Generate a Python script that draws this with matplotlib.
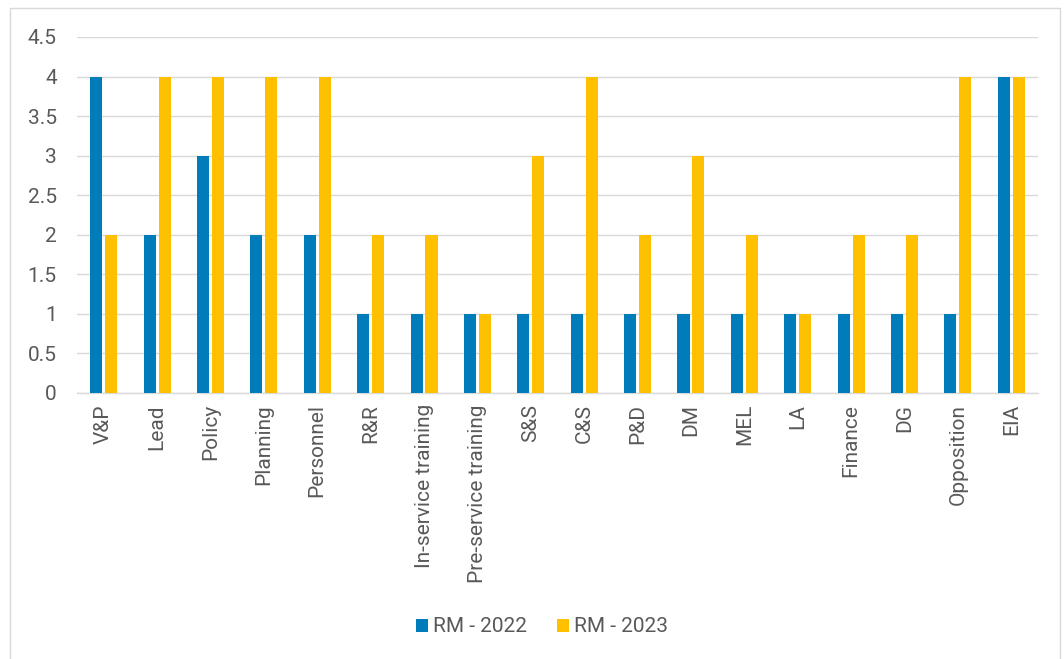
import numpy as np
import matplotlib.pyplot as plt
from matplotlib.patches import Rectangle

categories = ['V&P', 'Lead', 'Policy', 'Planning', 'Personnel', 'R&R',
              'In-service training', 'Pre-service training', 'S&S', 'C&S',
              'P&D', 'DM', 'MEL', 'LA', 'Finance', 'DG', 'Opposition', 'EIA']
rm_2022 = [4, 2, 3, 2, 2, 1, 1, 1, 1, 1, 1, 1, 1, 1, 1, 1, 1, 4]
rm_2023 = [2, 4, 4, 4, 4, 2, 2, 1, 3, 4, 2, 3, 2, 1, 2, 2, 4, 4]

plt.rcParams['font.family'] = ['Roboto', 'DejaVu Sans']
text_color = '#595959'

fig = plt.figure(figsize=(10.64, 6.59), dpi=100)
ax = fig.add_axes([77 / 1064, 1 - 393 / 659, (1038 - 77) / 1064, (393 - 37) / 659])

# outer chart border
fig.patches.append(Rectangle((10 / 1064, -0.01), 1050 / 1064, 1 - 8 / 659 + 0.01,
                             transform=fig.transFigure, fill=False,
                             edgecolor='#d9d9d9', linewidth=1))

x = np.arange(len(categories))
w = 0.225
gap = 0.055
ax.bar(x - (w + gap) / 2, rm_2022, w, color='#007CBA', label='RM - 2022', zorder=3)
ax.bar(x + (w + gap) / 2, rm_2023, w, color='#FFC000', label='RM - 2023', zorder=3)

ax.set_xlim(-0.5, len(categories) - 0.5)
ax.set_ylim(0, 4.5)
ax.set_yticks(np.arange(0, 4.51, 0.5))
ax.set_yticklabels(['0', '0.5', '1', '1.5', '2', '2.5', '3', '3.5', '4', '4.5'])
ax.set_xticks(x)
ax.set_xticklabels(categories, rotation=90)
ax.tick_params(axis='both', length=0, labelsize=15, labelcolor=text_color)
ax.tick_params(axis='y', pad=14.5)
ax.tick_params(axis='x', pad=8)

ax.yaxis.grid(True, color='#d9d9d9', linewidth=1, zorder=0)
for s in ['top', 'right', 'left']:
    ax.spines[s].set_visible(False)
ax.spines['bottom'].set_color('#d9d9d9')
ax.spines['bottom'].set_linewidth(1)

leg = fig.legend(loc='center', bbox_to_anchor=(542 / 1064, 1 - 627 / 659), ncol=2,
                 frameon=False, fontsize=15, handlelength=0.6, handleheight=0.6,
                 columnspacing=1.4, handletextpad=0.25)
for t in leg.get_texts():
    t.set_color(text_color)

fig.savefig('out.png', dpi=100)
